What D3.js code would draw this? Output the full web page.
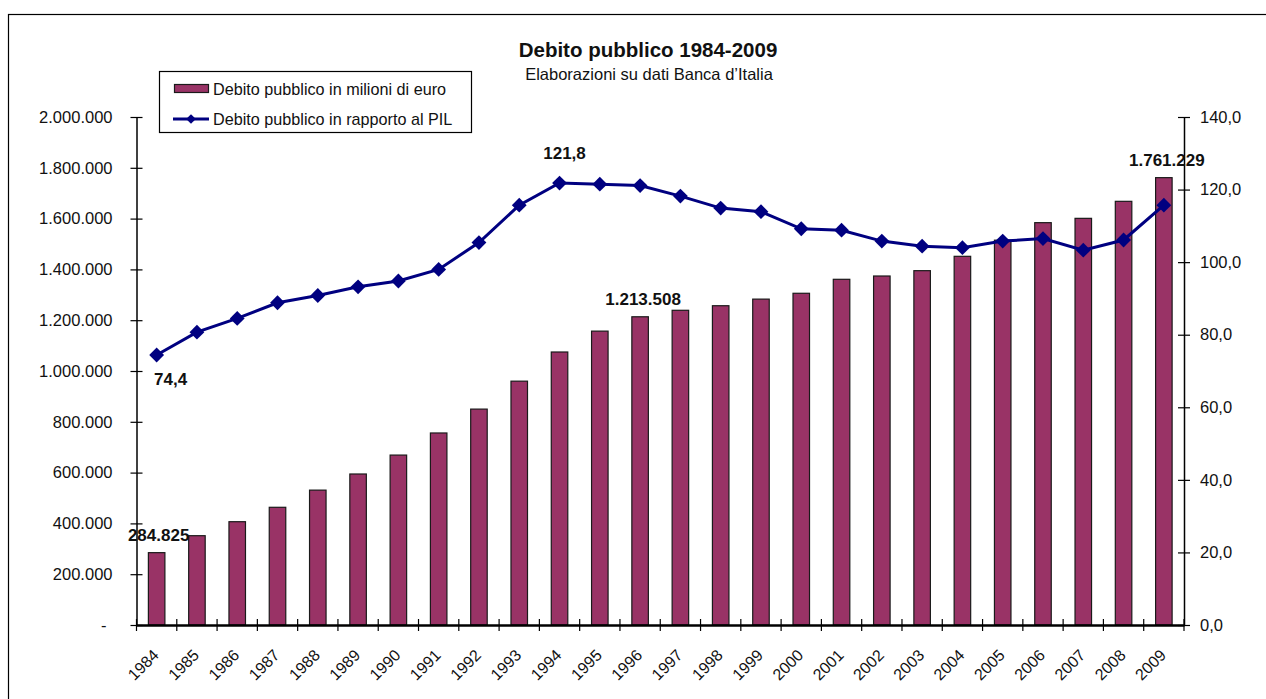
<!DOCTYPE html>
<html>
<head>
<meta charset="utf-8">
<script src="https://cdn.jsdelivr.net/npm/d3@7"></script>
<style>
  html, body { margin: 0; padding: 0; background: #fff; }
  svg { display: block; font-family: "Liberation Sans", Arial, sans-serif; }
</style>
</head>
<body>
<svg id="chart" width="1266" height="699"></svg>
<script>
const years = ["1984","1985","1986","1987","1988","1989","1990","1991","1992","1993","1994","1995","1996","1997","1998","1999","2000","2001","2002","2003","2004","2005","2006","2007","2008","2009"];
const debtMillions = [284825, 351600, 406700, 463400, 531000, 594500, 669000, 756000, 850000, 960000, 1074800, 1157000, 1213508, 1239000, 1257000, 1283000, 1306000, 1361000, 1374000, 1395000, 1451500, 1515000, 1584000, 1601000, 1668000, 1761229];
const debtPil = [74.4, 80.7, 84.5, 88.8, 90.8, 93.2, 94.8, 98.0, 105.4, 115.7, 121.8, 121.5, 121.1, 118.2, 114.9, 113.9, 109.2, 108.8, 105.8, 104.4, 104.0, 105.8, 106.5, 103.3, 106.1, 115.7];
const leftTicks = [0, 200000, 400000, 600000, 800000, 1000000, 1200000, 1400000, 1600000, 1800000, 2000000];
const rightTicks = [0, 20, 40, 60, 80, 100, 120, 140];
const barLabels = [ {i: 0, text: "284.825"}, {i: 12, text: "1.213.508"}, {i: 25, text: "1.761.229"} ];
const lineLabels = [ {i: 0, text: "74,4"}, {i: 10, text: "121,8"} ];
const titleText = "Debito pubblico 1984-2009";
const subtitleText = "Elaborazioni su dati Banca d\u2019Italia";
const legendNames = ["Debito pubblico in milioni di euro", "Debito pubblico in rapporto al PIL"];

const svg = d3.select("#chart");
const L = 136.5, R = 1184, T = 117, B = 625;
const barColor = "#993366", lineColor = "#000080";

// outer frame
svg.append("rect").attr("x", 8.5).attr("y", 14.5).attr("width", 1300).attr("height", 800)
  .attr("fill", "none").attr("stroke", "#000").attr("stroke-width", 1.2);

const x = d3.scaleBand().domain(years).range([L, R]).paddingInner(0).paddingOuter(0);
const yL = d3.scaleLinear().domain([0, 2000000]).range([B, T]);
const yR = d3.scaleLinear().domain([0, 140]).range([B, T]);

const fmtL = v => v === 0 ? "-" : d3.format(",")(v).replace(/,/g, ".");
const fmtR = v => v.toFixed(1).replace(".", ",");

// bars
const bw = x.bandwidth() * 0.41;
svg.append("g").selectAll("rect").data(debtMillions).join("rect")
  .attr("x", (d, i) => x(years[i]) + (x.bandwidth() - bw) / 2)
  .attr("y", d => yL(d))
  .attr("width", bw)
  .attr("height", d => B - yL(d))
  .attr("fill", barColor)
  .attr("stroke", "#1a1a1a").attr("stroke-width", 1.2);

// left axis
const gL = svg.append("g").attr("transform", `translate(${L},0)`)
  .call(d3.axisLeft(yL).tickValues(leftTicks).tickFormat(fmtL).tickSizeInner(6).tickSizeOuter(0));
gL.select(".domain").attr("stroke", "#000").attr("stroke-width", 1.5);
gL.selectAll(".tick line").attr("x2", 6).attr("x1", -6).attr("stroke-width", 1.2);
gL.selectAll(".tick text").attr("x", -24).attr("font-size", 16.5).attr("fill", "#111")
  .attr("font-family", "'Liberation Sans', Arial, sans-serif")
  .filter(d => d === 0).attr("x", -30);

// right axis
const gR = svg.append("g").attr("transform", `translate(${R},0)`)
  .call(d3.axisRight(yR).tickValues(rightTicks).tickFormat(fmtR).tickSizeInner(6).tickSizeOuter(0));
gR.select(".domain").attr("stroke", "#000").attr("stroke-width", 1.5);
gR.selectAll(".tick line").attr("x1", -6).attr("x2", 6).attr("stroke-width", 1.2);
gR.selectAll(".tick text").attr("x", 16).attr("font-size", 16.5).attr("fill", "#111")
  .attr("font-family", "'Liberation Sans', Arial, sans-serif");

// bottom axis
const gB = svg.append("g").attr("transform", `translate(0,${B})`)
  .call(d3.axisBottom(x).tickSize(0).tickSizeOuter(0));
gB.select(".domain").attr("stroke", "#000").attr("stroke-width", 2.5);
// category boundary ticks
const bounds = years.map(y => x(y)).concat([R]);
svg.append("g").selectAll("line").data(bounds).join("line")
  .attr("x1", d => d).attr("x2", d => d).attr("y1", B - 6).attr("y2", B + 6)
  .attr("stroke", "#000").attr("stroke-width", 1.2);
gB.selectAll(".tick text")
  .attr("font-size", 16).attr("fill", "#111")
  .attr("font-family", "'Liberation Sans', Arial, sans-serif")
  .attr("text-anchor", "end")
  .attr("dy", 0)
  .attr("transform", "translate(1,29) rotate(-45)");

// line
const cx = i => x(years[i]) + x.bandwidth() / 2;
const line = d3.line().x((d, i) => cx(i)).y(d => yR(d));
svg.append("path").datum(debtPil).attr("d", line)
  .attr("fill", "none").attr("stroke", lineColor).attr("stroke-width", 3);
const diamond = d3.symbol().type(d3.symbolDiamond2).size(140);
svg.append("g").selectAll("path").data(debtPil).join("path")
  .attr("d", diamond)
  .attr("transform", (d, i) => `translate(${cx(i)},${yR(d)})`)
  .attr("fill", lineColor);

// data labels
const lbl = svg.append("g").attr("font-weight", "bold").attr("font-size", 17).attr("fill", "#111");
lbl.selectAll("text.b").data(barLabels).join("text")
  .attr("x", d => cx(d.i) + (d.i === 0 ? 2 : 3))
  .attr("y", d => yL(debtMillions[d.i]) - 11.5)
  .attr("text-anchor", "middle")
  .text(d => d.text);
lbl.selectAll("text.l").data(lineLabels).join("text")
  .attr("x", d => cx(d.i) + (d.i === 0 ? 14 : 5))
  .attr("y", d => yR(debtPil[d.i]) + (d.i === 0 ? 30 : -24))
  .attr("text-anchor", "middle")
  .text(d => d.text);

// title
svg.append("text").attr("x", 648).attr("y", 57).attr("text-anchor", "middle")
  .attr("font-size", 20.5).attr("font-weight", "bold").attr("fill", "#111").text(titleText);
svg.append("text").attr("x", 649).attr("y", 80).attr("text-anchor", "middle")
  .attr("font-size", 16.5).attr("fill", "#111").text(subtitleText);

// legend
const lg = svg.append("g");
lg.append("rect").attr("x", 159.5).attr("y", 71.5).attr("width", 312).attr("height", 61)
  .attr("fill", "#fff").attr("stroke", "#000").attr("stroke-width", 1.2);
lg.append("rect").attr("x", 174.5).attr("y", 84.5).attr("width", 34).attr("height", 8)
  .attr("fill", barColor).attr("stroke", "#1a1a1a").attr("stroke-width", 1.2);
lg.append("line").attr("x1", 173).attr("x2", 209).attr("y1", 119).attr("y2", 119)
  .attr("stroke", lineColor).attr("stroke-width", 3);
lg.append("path").attr("d", d3.symbol().type(d3.symbolDiamond2).size(60))
  .attr("transform", "translate(191,119)").attr("fill", lineColor);
lg.selectAll("text").data(legendNames).join("text")
  .attr("x", 213).attr("y", (d, i) => 95 + i * 30)
  .attr("font-size", 16.2).attr("fill", "#111").text(d => d);
</script>
</body>
</html>
